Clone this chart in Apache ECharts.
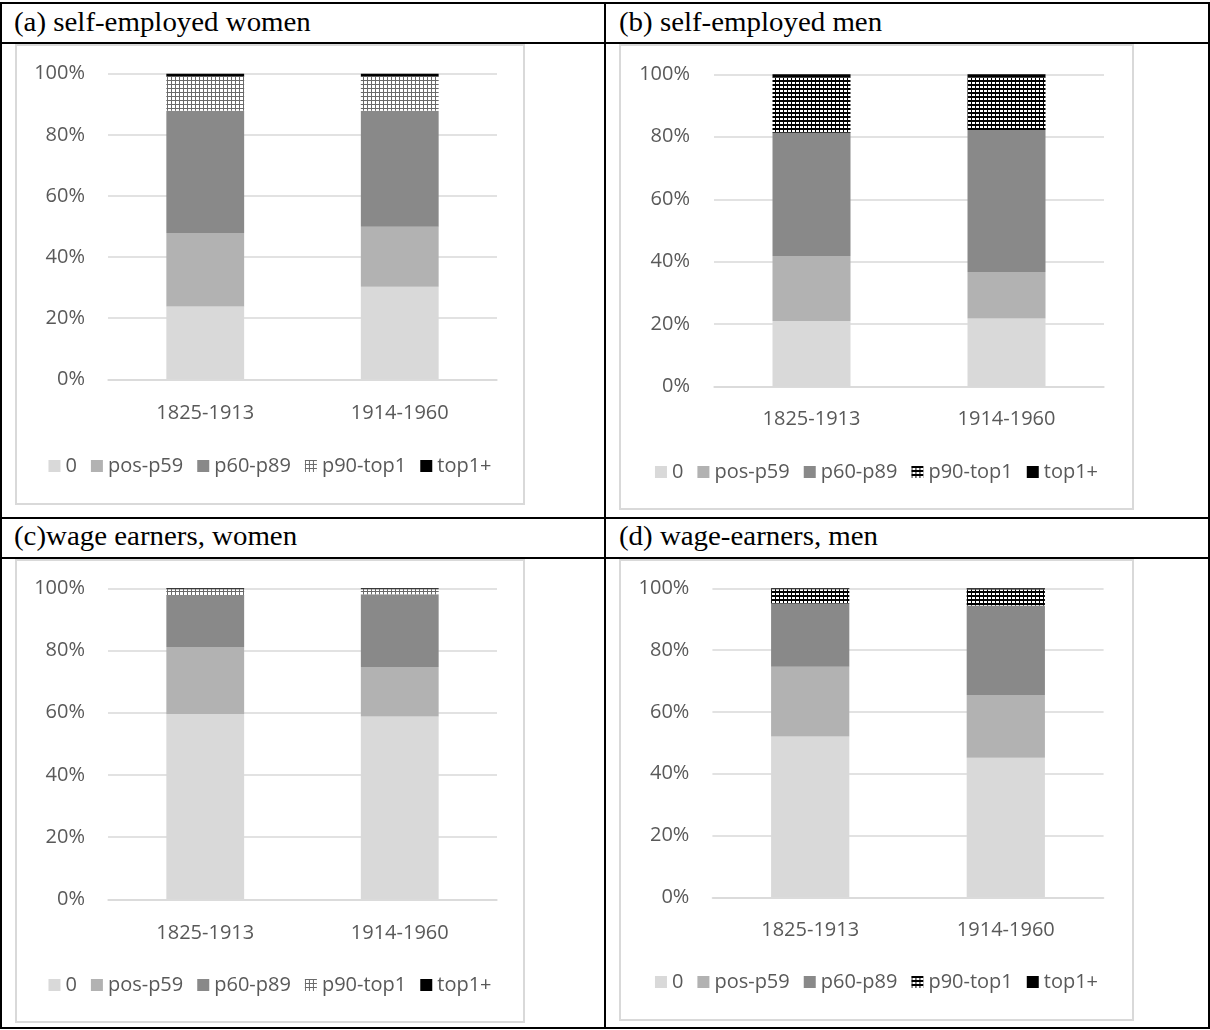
<!DOCTYPE html>
<html>
<head>
<meta charset="utf-8">
<script src="https://cdn.jsdelivr.net/npm/echarts@6/dist/echarts.min.js"></script>
<style>
  html, body { margin: 0; padding: 0; background: #fff; }
  body { width: 1210px; height: 1030px; position: relative; overflow: hidden; }
  .ln { position: absolute; background: #000; }
  .hd { position: absolute; font-family: 'Liberation Serif', 'Times New Roman', serif; font-size: 27px; line-height: 27px; color: #000; white-space: nowrap; transform: scaleX(1.07); transform-origin: 0 0; }
  .ch { position: absolute; }
  .bx { position: absolute; box-sizing: border-box; border: 2px solid #d9d9d9; pointer-events: none; }
</style>
</head>
<body>
<!-- table lines -->
<div class="ln" style="left:0;top:2px;width:1210px;height:2px"></div>
<div class="ln" style="left:0;top:42px;width:1210px;height:2px"></div>
<div class="ln" style="left:0;top:517px;width:1210px;height:2px"></div>
<div class="ln" style="left:0;top:557px;width:1210px;height:2px"></div>
<div class="ln" style="left:0;top:1027px;width:1210px;height:2px"></div>
<div class="ln" style="left:0;top:2px;width:2px;height:1027px"></div>
<div class="ln" style="left:604px;top:2px;width:2px;height:1027px"></div>
<div class="ln" style="left:1208px;top:2px;width:2px;height:1027px"></div>

<div class="hd" style="left:14px;top:9px">(a) self-employed women</div>
<div class="hd" style="left:619px;top:9px">(b) self-employed men</div>
<div class="hd" style="left:14px;top:523px">(c)wage earners, women</div>
<div class="hd" style="left:619px;top:523px">(d) wage-earners, men</div>

<div id="ca" class="ch" style="left:15px;top:44px;width:510px;height:461px"></div>
<div id="cb" class="ch" style="left:619px;top:44px;width:515px;height:466px"></div>
<div id="cc" class="ch" style="left:15px;top:559px;width:510px;height:464px"></div>
<div id="cd" class="ch" style="left:619px;top:559px;width:515px;height:462px"></div>
<div class="bx" style="left:15px;top:44px;width:510px;height:461px"></div>
<div class="bx" style="left:619px;top:44px;width:515px;height:466px"></div>
<div class="bx" style="left:15px;top:559px;width:510px;height:464px"></div>
<div class="bx" style="left:619px;top:559px;width:515px;height:462px"></div>

<script>
// ---- data ----
const categories = ['1825-1913', '1914-1960'];
const seriesNames = ['0', 'pos-p59', 'p60-p89', 'p90-top1', 'top1+'];
const yTickLabels = ['0%', '20%', '40%', '60%', '80%', '100%'];

// (a) self-employed women
const aZero = [23.8, 30.3];
const aPos59 = [24.1, 19.6];
const aP60p89 = [40.0, 38.0];
const aP90top1 = [11.2, 11.2];
const aTop1 = [0.9, 0.9];

// (b) self-employed men
const bZero = [21.0, 21.8];
const bPos59 = [20.8, 14.9];
const bP60p89 = [39.5, 45.5];
const bP90top1 = [17.7, 16.8];
const bTop1 = [1.0, 1.0];

// (c) wage earners, women
const cZero = [59.6, 58.8];
const cPos59 = [21.5, 15.9];
const cP60p89 = [16.5, 23.4];
const cP90top1 = [2.1, 1.6];
const cTop1 = [0.3, 0.3];

// (d) wage-earners, men
const dZero = [52.0, 45.2];
const dPos59 = [22.6, 20.3];
const dP60p89 = [20.5, 28.9];
const dP90top1 = [4.6, 5.2];
const dTop1 = [0.3, 0.4];

// ---- styles ----
function gridPattern(lineColor, hRow) {
  const c = document.createElement('canvas');
  c.width = 4; c.height = 4;
  const g = c.getContext('2d');
  g.fillStyle = '#ffffff'; g.fillRect(0, 0, 4, 4);
  g.fillStyle = lineColor;
  g.fillRect(0, 0, 4, hRow);
  g.fillRect(0, 0, 1, 4);
  return { image: c, repeat: 'repeat' };
}
const FONT = "'Open Sans', 'Noto Sans', sans-serif";
const TXT = '#595959';

function build(el, parts, pattern, g) {
  const chart = echarts.init(document.getElementById(el), null, { renderer: 'canvas' });
  const colors = ['#d9d9d9', '#b2b2b2', '#898989', pattern, '#000000'];
  const series = parts.map((arr, i) => ({
    name: seriesNames[i],
    type: 'bar',
    stack: 'total',
    barWidth: '40%',
    data: arr,
    itemStyle: { color: colors[i] },
    emphasis: { disabled: true }
  }));
  chart.setOption({
    animation: false,
    textStyle: { fontFamily: FONT },
    grid: { left: g.left, right: g.right, top: g.top, bottom: g.bottom },
    legend: {
      data: seriesNames,
      left: 'center',
      top: g.legendTop,
      itemWidth: 12,
      itemHeight: 12,
      itemGap: 14,
      icon: 'rect',
      textStyle: { color: TXT, fontSize: 20, fontFamily: FONT },
      selectedMode: false
    },
    xAxis: {
      type: 'category',
      data: categories,
      axisLine: { show: true, lineStyle: { color: '#d9d9d9', width: 1.5 } },
      axisTick: { show: false },
      axisLabel: { color: TXT, fontSize: 20, fontFamily: FONT, margin: g.xMargin }
    },
    yAxis: {
      type: 'value',
      min: 0, max: 100, interval: 20,
      axisLine: { show: false },
      axisTick: { show: false },
      splitLine: { lineStyle: { color: '#d9d9d9', width: 1.5 } },
      axisLabel: {
        color: TXT, fontSize: 20, fontFamily: FONT, margin: g.yMargin,
        formatter: v => yTickLabels[Math.round(v / 20)]
      }
    },
    series: series
  });
}

const lightGrid = gridPattern('#6a6a6a', 1);
const darkGrid = gridPattern('#000000', 2);

build('ca', [aZero, aPos59, aP60p89, aP90top1, aTop1], lightGrid,
  { left: 93, right: 28, top: 29.7, bottom: 125.7, legendTop: 407, xMargin: 24, yMargin: 23 });
build('cb', [bZero, bPos59, bP60p89, bP90top1, bTop1], darkGrid,
  { left: 95, right: 30, top: 30.3, bottom: 123.3, legendTop: 413, xMargin: 23, yMargin: 24 });
build('cc', [cZero, cPos59, cP60p89, cP90top1, cTop1], lightGrid,
  { left: 93, right: 28, top: 29.3, bottom: 123.7, legendTop: 411, xMargin: 24, yMargin: 23 });
build('cd', [dZero, dPos59, dP60p89, dP90top1, dTop1], darkGrid,
  { left: 93.4, right: 30.4, top: 29.3, bottom: 123.7, legendTop: 408, xMargin: 23, yMargin: 23 });
</script>
</body>
</html>
